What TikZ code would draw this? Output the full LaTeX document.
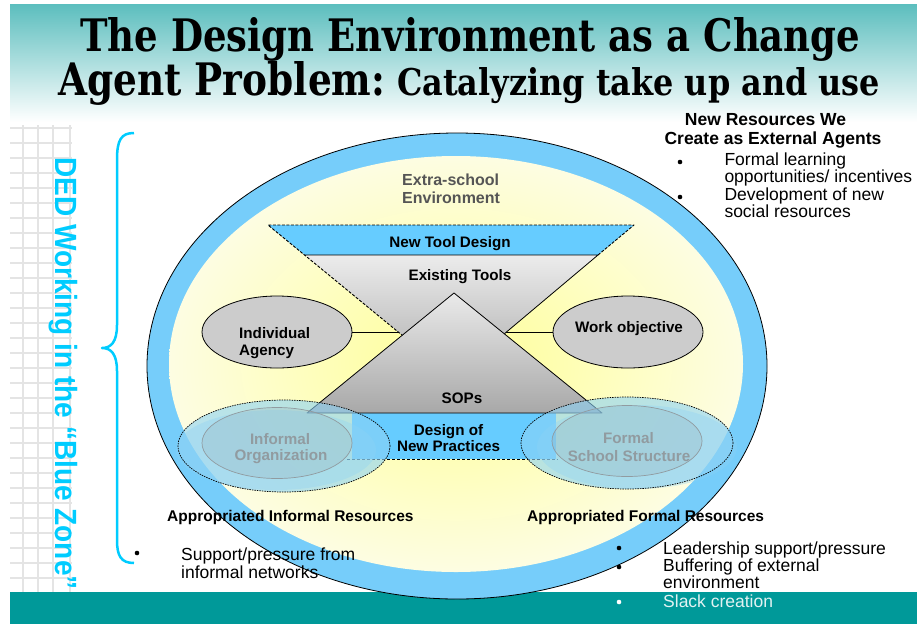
\documentclass[tikz,border=0pt]{standalone}
\usepackage{fontspec}
\setmainfont{Liberation Sans}
\newfontfamily\titlefont{DejaVu Serif}
\usetikzlibrary{shapes.geometric}
\definecolor{tealbar}{RGB}{0,153,153}
\definecolor{tealtop}{RGB}{92,190,190}
\definecolor{cyanT}{RGB}{0,204,255}
\definecolor{ringc}{RGB}{118,205,250}
\definecolor{paleY}{RGB}{253,253,226}
\definecolor{brightY}{RGB}{255,255,150}
\definecolor{toolblue}{RGB}{102,204,255}
\definecolor{ellgray}{RGB}{204,204,204}
\definecolor{gridc}{RGB}{228,228,228}
\definecolor{envgray}{RGB}{85,85,85}
\definecolor{orggray}{RGB}{145,155,160}
\definecolor{lowblue}{RGB}{140,210,245}
\tikzset{
  lbl/.style={inner sep=0, anchor=base west},
  lblc/.style={inner sep=0, anchor=base},
  dlab/.style={font=\fontsize{15.2}{17}\selectfont\bfseries},
  body/.style={font=\fontsize{17.5}{18}\selectfont},
  bodyb/.style={font=\fontsize{17.5}{18}\selectfont\bfseries},
  resb/.style={font=\fontsize{15.5}{18}\selectfont\bfseries},
  grayell/.style={ellipse, draw=black, line width=0.8pt, fill=ellgray, minimum width=150pt, minimum height=72pt, inner sep=0},
  lowell/.style={ellipse, draw=black, line width=0.7pt, dash pattern=on 1.5pt off 1pt, fill=lowblue, fill opacity=0.6, minimum width=212pt, minimum height=92pt, inner sep=0},
  lowin/.style={ellipse, draw=orggray, line width=0.7pt, fill=orggray, fill opacity=0.18, minimum width=150pt, minimum height=71pt, inner sep=0},
  orgtxt/.style={font=\fontsize{15.2}{17}\selectfont\bfseries, text=orggray},
  bul/.style={circle, fill=black, inner sep=0, minimum size=4.6pt}
}
\begin{document}
\begin{tikzpicture}[x=1pt,y=-1pt,line join=round]
\useasboundingbox (0,0) rectangle (917,624);
% top gradient band
\shade[top color=tealtop, bottom color=white] (10,4) rectangle (917,122);
% left grid
\foreach \yy in {128,143,...,590} \draw[gridc, line width=1.5pt] (10,\yy) -- (72,\yy);
\foreach \xx in {23,38,53,70} \draw[gridc, line width=1.5pt] (\xx,125) -- (\xx,592);
% bottom bar
\fill[tealbar] (10,592) rectangle (917,624);
% title
\node[lbl] (t1) at (80,51) {\resizebox{780pt}{34pt}{\titlefont\bfseries The Design Environment as a Change}};
\node[lbl] (t2a) at (58,95) {\resizebox{327pt}{34pt}{\titlefont\bfseries Agent Problem:}};
\node[lbl] (t2b) at (397,95) {\resizebox{483pt}{28pt}{\titlefont\bfseries Catalyzing take up and use}};
% vertical text
\node[rotate=-90, lbl, text=cyanT, font=\fontsize{30.7}{31}\selectfont\bfseries] (ded) at (55,157) {\scalebox{0.913}[1]{DED Working in the “Blue Zone”}};
% brace
\draw[cyanT, line width=2.5pt] (134,133) .. controls (121,133) and (117,140) .. (117,160) -- (117,325) .. controls (117,342) and (111,348) .. (102,348) .. controls (111,348) and (117,354) .. (117,371) -- (117,540) .. controls (117,556) and (121,563) .. (134,563);
% big ellipse
\draw[fill=ringc, line width=0.8pt] (457,366) ellipse [x radius=310, y radius=233];
\shade[inner color=brightY, outer color=paleY] (456,364) ellipse [x radius=287, y radius=208];
% environment label
\node[lbl, font=\fontsize{16}{18}\selectfont\bfseries, text=envgray] (env1) at (402,185) {Extra-school};
\node[lbl, font=\fontsize{16}{18}\selectfont\bfseries, text=envgray] (env2) at (402,203) {Environment};
% side ellipses and connectors
\coordinate (hc) at (454,332);
\node[grayell] (ia) at (277,332) {};
\node[grayell] (wo) at (628,332) {};
\draw[line width=0.8pt] (ia.east) -- (hc);
\draw[line width=0.8pt] (wo.west) -- (hc);
\node[lbl, dlab] (ia1) at (239,338) {Individual};
\node[lbl, dlab] (ia2) at (239,355) {Agency};
\node[lblc, dlab] (wot) at (629,332) {Work objective};
% design of new practices box
\fill[toolblue] (352,413) rectangle (556,459);
\draw[line width=0.8pt, dash pattern=on 3pt off 2pt] (347,459) -- (558,459);
% hourglass: inverted triangle
\coordinate (TL) at (268,225);
\coordinate (TR) at (634,225);
\coordinate (GL) at (305,255);
\coordinate (GR) at (598,255);
\coordinate (IA) at (453,377);
\fill[toolblue] (TL) -- (TR) -- (GR) -- (GL) -- cycle;
\shade[top color={rgb,255:red,236;green,236;blue,236}, bottom color={rgb,255:red,172;green,172;blue,172}] (GL) -- (GR) -- (IA) -- cycle;
\draw[line width=0.9pt, dash pattern=on 3pt off 1.5pt] (GR) -- (TR) -- (TL) -- (IA);
\draw[line width=0.8pt] (GL) -- (GR) -- (IA);
% upright triangle
\coordinate (UA) at (454,293);
\coordinate (UL) at (307,413);
\coordinate (UR) at (602,413);
\shade[top color={rgb,255:red,234;green,234;blue,234}, bottom color={rgb,255:red,168;green,168;blue,168}] (UA) -- (UR) -- (UL) -- cycle;
\draw[line width=0.8pt] (UA) -- (UR) -- (UL) -- cycle;
\node[lblc, dlab] (ntd) at (450,247.7) {New Tool Design};
\node[lblc, dlab] (ext) at (460,280) {Existing Tools};
\node[lblc, dlab] (sop) at (462,403) {SOPs};
\node[lblc, dlab] (dn1) at (448.5,435) {Design of};
\node[lblc, dlab] (dn2) at (448.6,451.7) {New Practices};
% lower ellipses
\fill[lowblue, opacity=0.35] (637,447) ellipse [x radius=100, y radius=42];
\fill[lowblue, opacity=0.35] (276,450) ellipse [x radius=100, y radius=40];
\node[lowell] (io) at (284,446) {};
\node[lowin] (ioi) at (277,443) {};
\node[lowell] (fs) at (627,443) {};
\node[lowin] (fsi) at (627,441) {};
\node[lblc, orgtxt] (io1) at (280,444) {Informal};
\node[lblc, orgtxt] (io2) at (281,460.7) {Organization};
\node[lblc, orgtxt] (fs1) at (628.5,443) {Formal};
\node[lblc, orgtxt] (fs2) at (629,461) {School Structure};
% new resources block
\node[lblc, bodyb] (nr1) at (765.5,125) {New Resources We};
\node[lblc, bodyb] (nr2) at (773,144.3) {Create as External Agents};
\node[bul] (b1) at (680,162) {};
\node[bul] (b2) at (680,197) {};
\node[lbl, body] (nr3) at (724.3,165) {Formal learning};
\node[lbl, body] (nr4) at (724.3,182.5) {opportunities/ incentives};
\node[lbl, body] (nr5) at (724.3,200) {Development of new};
\node[lbl, body] (nr6) at (724.3,217) {social resources};
% appropriated resources
\node[lbl, resb] (air) at (167,521) {Appropriated Informal Resources};
\node[lbl, resb] (afr) at (527,521) {Appropriated Formal Resources};
\node[bul] (b3) at (137,553) {};
\node[lbl, body] (sp1) at (181,560) {Support/pressure from};
\node[lbl, body] (sp2) at (181,578) {informal networks};
\node[bul] (b4) at (619,548) {};
\node[bul] (b5) at (619,567) {};
\node[bul, fill=white] (b6) at (619,602) {};
\node[lbl, body] (lf1) at (663,554) {Leadership support/pressure};
\node[lbl, body] (lf2) at (663,571.7) {Buffering of external};
\node[lbl, body] (lf3) at (663,588.5) {environment};
\node[lbl, body, text={rgb,255:red,225;green,242;blue,242}] (lf4) at (663,607) {Slack creation};
\end{tikzpicture}
\end{document}
